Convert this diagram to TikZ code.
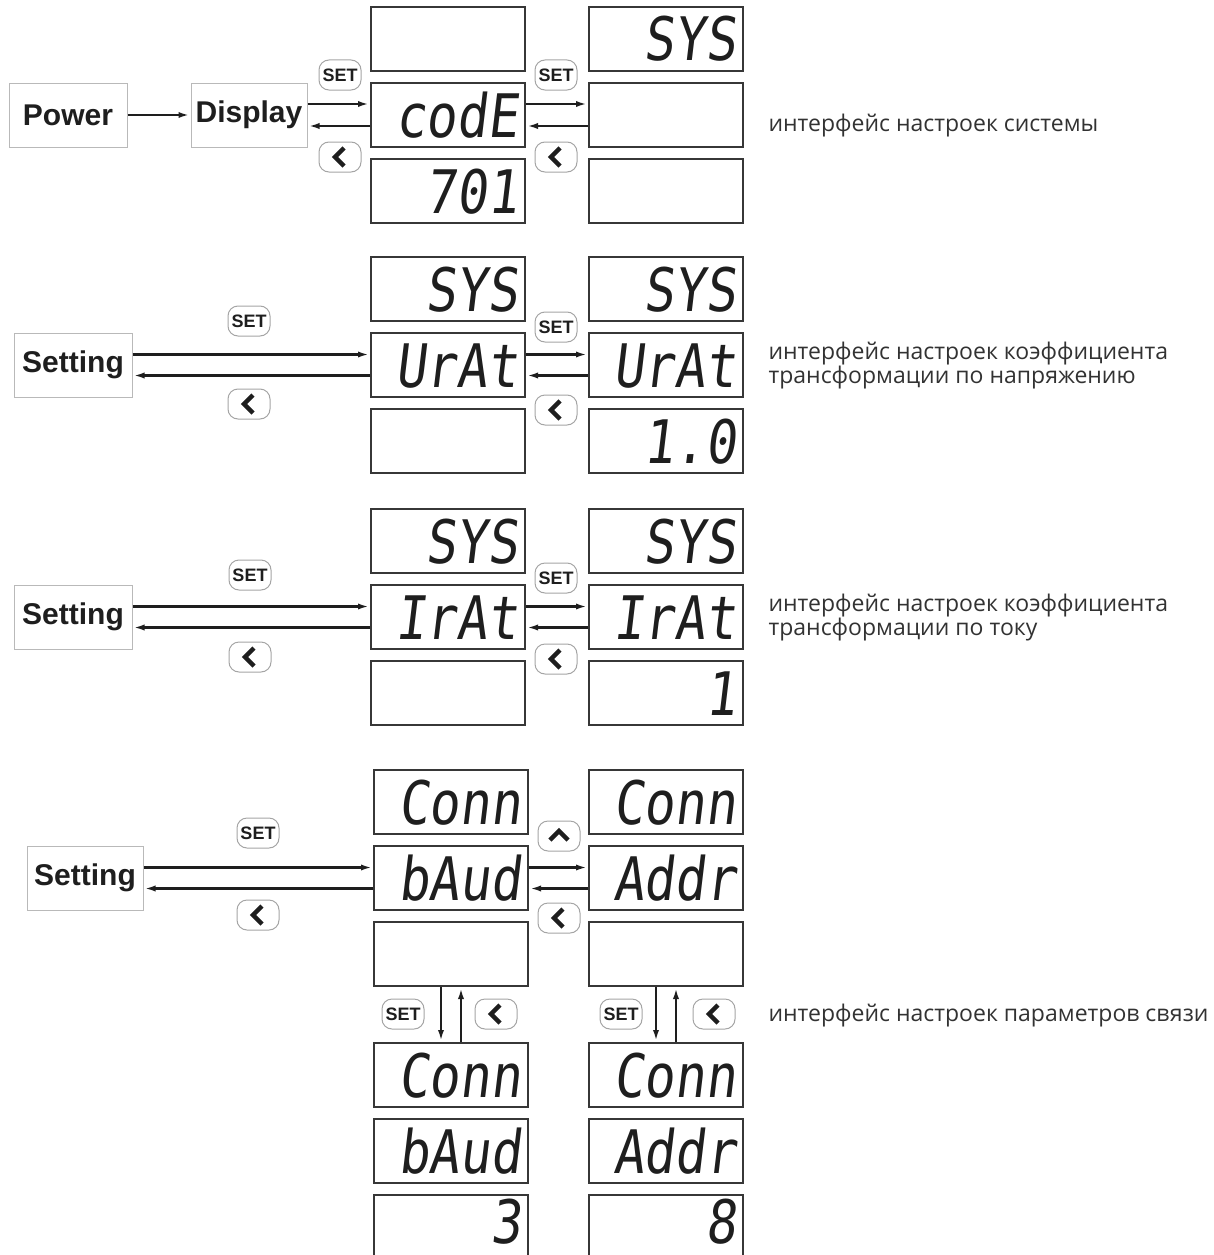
\documentclass[tikz,border=0pt]{standalone}
\usepackage{fontspec}
\usepackage{xcolor}
\usetikzlibrary{arrows.meta,positioning,calc}
\setmainfont{Open Sans}
\newfontfamily\labelfont{Liberation Sans}
\newfontfamily\lcdfont[FakeSlant=0.12,FakeStretch=0.85]{DejaVu Sans Mono}
\definecolor{framegray}{RGB}{185, 185, 185}
\definecolor{btngray}{RGB}{165, 165, 165}
\definecolor{lcdline}{RGB}{55, 55, 55}
\definecolor{inkdark}{RGB}{30, 30, 30}
\definecolor{hintgray}{RGB}{50, 50, 50}

\newcommand{\backmark}[1]{%
  \draw[chev] ($(#1.center)+(4,-9)$) -- ($(#1.center)+(-5,0)$) -- ($(#1.center)+(4,9)$);}
\newcommand{\upmark}[1]{%
  \draw[chev] ($(#1.center)+(-9,4)$) -- ($(#1.center)+(0,-5)$) -- ($(#1.center)+(9,4)$);}

\begin{document}
\begin{tikzpicture}[
    x=1pt, y=-1pt,
    every node/.style={align=center},
    menu/.style={rectangle, draw=framegray, line width=1pt, minimum width=118pt, minimum height=64pt, text=inkdark, font=\labelfont\bfseries\fontsize{30}{30}\selectfont},
    lcd/.style={rectangle, draw=lcdline, line width=2pt, minimum width=154pt, minimum height=64pt, inner sep=0pt, text width=140pt, text height=44pt, text depth=0pt, align=right, text=inkdark, font=\lcdfont\fontsize{60}{60}\selectfont},
    btn/.style={rectangle, rounded corners=10pt, draw=btngray, line width=1pt, minimum width=42pt, minimum height=30pt, inner sep=0pt, text=inkdark, font=\labelfont\bfseries\fontsize{18}{18}\selectfont},
    chev/.style={line width=4.5pt, draw=inkdark},
    link/.style={line width=2.6pt, draw=inkdark, -{Latex[length=12pt,width=6pt]}},
    hint/.style={anchor=west, align=left, text=hintgray, font=\fontsize{23}{20}\selectfont}
]
    \useasboundingbox (0,0) rectangle (1214,1255);

    % system
    \node[menu] (power) at (68,115) {Power};
    \node[menu, minimum width=116pt] (display) at (249,115) {Display};
    \node[lcd] (code) at (448,115) {codE};
    \node[lcd, above=10pt of code] (codetop) {};
    \node[lcd, below=10pt of code] (codeval) {701};
    \node[lcd] (sys) at (666,115) {};
    \node[lcd, above=10pt of sys] (systop) {SYS};
    \node[lcd, below=10pt of sys] (sysval) {};
    \node[btn] (set1) at (340,75) {SET};
    \node[btn] (back1) at (340,157) {};
    \node[btn] (set2) at (556,75) {SET};
    \node[btn] (back2) at (556,157) {};
    \backmark{back1}
    \backmark{back2}
    \node[hint] (hint1) at (765,126) {интерфейс настроек системы};

    \draw[link] (power) -- (display);
    \draw[link] ([yshift=11pt]display.east) -- ([yshift=11pt]code.west);
    \draw[link] ([yshift=-11pt]code.west) -- ([yshift=-11pt]display.east);
    \draw[link] ([yshift=11pt]code.east) -- ([yshift=11pt]sys.west);
    \draw[link] ([yshift=-11pt]sys.west) -- ([yshift=-11pt]code.east);

    % voltage ratio
    \node[menu] (setu) at (73,365) {Setting};
    \node[lcd] (urat) at (448,365) {UrAt};
    \node[lcd, above=10pt of urat] (uratop) {SYS};
    \node[lcd, below=10pt of urat] (uraval) {};
    \node[lcd] (urat2) at (666,365) {UrAt};
    \node[lcd, above=10pt of urat2] (uratop2) {SYS};
    \node[lcd, below=10pt of urat2] (uraval2) {1.0};
    \node[btn] (set3) at (249,321) {SET};
    \node[btn] (back3) at (249,404) {};
    \node[btn] (set4) at (556,327) {SET};
    \node[btn] (back4) at (556,410) {};
    \backmark{back3}
    \backmark{back4}
    \node[hint] (hint2) at (765,366) {интерфейс настроек коэффициента\\трансформации по напряжению};

    \draw[link] ([yshift=10.5pt]setu.east) -- ([yshift=10.5pt]urat.west);
    \draw[link] ([yshift=-10.5pt]urat.west) -- ([yshift=-10.5pt]setu.east);
    \draw[link] ([yshift=10.5pt]urat.east) -- ([yshift=10.5pt]urat2.west);
    \draw[link] ([yshift=-10.5pt]urat2.west) -- ([yshift=-10.5pt]urat.east);

    % current ratio
    \node[menu] (seti) at (73,617) {Setting};
    \node[lcd] (irat) at (448,617) {IrAt};
    \node[lcd, above=10pt of irat] (iratop) {SYS};
    \node[lcd, below=10pt of irat] (iraval) {};
    \node[lcd] (irat2) at (666,617) {IrAt};
    \node[lcd, above=10pt of irat2] (iratop2) {SYS};
    \node[lcd, below=10pt of irat2] (iraval2) {1};
    \node[btn] (set5) at (250,575) {SET};
    \node[btn] (back5) at (250,657) {};
    \node[btn] (set6) at (556,578) {SET};
    \node[btn] (back6) at (556,659) {};
    \backmark{back5}
    \backmark{back6}
    \node[hint] (hint3) at (765,618) {интерфейс настроек коэффициента\\трансформации по току};

    \draw[link] ([yshift=10.5pt]seti.east) -- ([yshift=10.5pt]irat.west);
    \draw[link] ([yshift=-10.5pt]irat.west) -- ([yshift=-10.5pt]seti.east);
    \draw[link] ([yshift=10.5pt]irat.east) -- ([yshift=10.5pt]irat2.west);
    \draw[link] ([yshift=-10.5pt]irat2.west) -- ([yshift=-10.5pt]irat.east);

    % communication
    \node[menu, minimum width=116pt] (setc) at (85,878) {Setting};
    \node[lcd] (baud) at (451,878) {bAud};
    \node[lcd, above=10pt of baud] (baudtop) {Conn};
    \node[lcd, below=10pt of baud] (baudval) {};
    \node[lcd] (addr) at (666,878) {Addr};
    \node[lcd, above=10pt of addr] (addrtop) {Conn};
    \node[lcd, below=10pt of addr] (addrval) {};
    \node[lcd] (baud2) at (451,1151) {bAud};
    \node[lcd, above=10pt of baud2] (baudtop2) {Conn};
    \node[lcd, below=10pt of baud2, text height=41pt, text depth=9pt] (baudval2) {3};
    \node[lcd] (addr2) at (666,1151) {Addr};
    \node[lcd, above=10pt of addr2] (addrtop2) {Conn};
    \node[lcd, below=10pt of addr2, text height=41pt, text depth=9pt] (addrval2) {8};
    \node[btn] (set7) at (258,833) {SET};
    \node[btn] (back7) at (258,915) {};
    \node[btn] (up8) at (559,836) {};
    \node[btn] (back8) at (559,918) {};
    \upmark{up8}
    \backmark{back7}
    \backmark{back8}
    \node[btn] (set9) at (403,1014) {SET};
    \node[btn] (back9) at (496,1014) {};
    \node[btn] (set10) at (621,1014) {SET};
    \node[btn] (back10) at (714,1014) {};
    \backmark{back9}
    \backmark{back10}
    \node[hint] (hint4) at (765,1016) {интерфейс настроек параметров связи};

    \draw[link] ([yshift=10.5pt]setc.east) -- ([yshift=10.5pt]baud.west);
    \draw[link] ([yshift=-10.5pt]baud.west) -- ([yshift=-10.5pt]setc.east);
    \draw[link] ([yshift=10.5pt]baud.east) -- ([yshift=10.5pt]addr.west);
    \draw[link] ([yshift=-10.5pt]addr.west) -- ([yshift=-10.5pt]baud.east);
    \draw[link] ([xshift=-10pt]baudval.south) -- ([xshift=-10pt]baudtop2.north);
    \draw[link] ([xshift=10pt]baudtop2.north) -- ([xshift=10pt]baudval.south);
    \draw[link] ([xshift=-10pt]addrval.south) -- ([xshift=-10pt]addrtop2.north);
    \draw[link] ([xshift=10pt]addrtop2.north) -- ([xshift=10pt]addrval.south);
\end{tikzpicture}
\end{document}
